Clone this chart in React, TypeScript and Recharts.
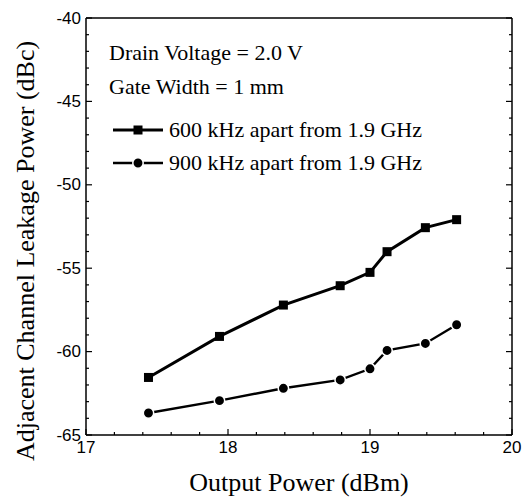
import React from "react";
import { LineChart, Line, XAxis, YAxis } from "recharts";

// values
const outputPower = [17.44, 17.94, 18.39, 18.79, 19.0, 19.12, 19.39, 19.61];
const acpr600 = [-61.55, -59.09, -57.21, -56.05, -55.25, -54.01, -52.57, -52.09];
const acpr900 = [-63.68, -62.94, -62.2, -61.7, -61.03, -59.93, -59.51, -58.39];

const xMajorTicks = [17, 18, 19, 20];
const xTicks = [17, 17.2, 17.4, 17.6, 17.8, 18, 18.2, 18.4, 18.6, 18.8, 19, 19.2, 19.4, 19.6, 19.8, 20];
const yMajorTicks = [-65, -60, -55, -50, -45, -40];
const yTicks = [
  -65, -64, -63, -62, -61, -60, -59, -58, -57, -56, -55, -54, -53,
  -52, -51, -50, -49, -48, -47, -46, -45, -44, -43, -42, -41, -40,
];

const seriesNames = ["600 kHz apart from 1.9 GHz", "900 kHz apart from 1.9 GHz"];
const notes = ["Drain Voltage = 2.0 V", "Gate Width = 1 mm"];

const SERIF = "'Liberation Serif', 'Times New Roman', serif";
const SANS = "'Liberation Sans', Arial, sans-serif";

const isMajor = (list: number[], v: number) => list.some((t) => Math.abs(t - v) < 1e-6);

const BottomTick = (props: any) => {
  const { x, y, payload } = props;
  const major = isMajor(xMajorTicks, payload.value);
  return (
    <g>
      <line x1={x} x2={x} y1={y} y2={y - (major ? 6 : 3)} stroke="#000" strokeWidth={1.2} />
      {major && (
        <text x={x} y={y + 18} textAnchor="middle" fontFamily={SANS} fontSize={17} fill="#000">
          {payload.value}
        </text>
      )}
    </g>
  );
};

const TopTick = (props: any) => {
  const { x, y, payload } = props;
  const major = isMajor(xMajorTicks, payload.value);
  return <line x1={x} x2={x} y1={y} y2={y + (major ? 6 : 3)} stroke="#000" strokeWidth={1.2} />;
};

const LeftTick = (props: any) => {
  const { x, y, payload } = props;
  const major = isMajor(yMajorTicks, payload.value);
  return (
    <g>
      <line x1={x} x2={x + (major ? 6 : 3)} y1={y} y2={y} stroke="#000" strokeWidth={1.2} />
      {major && (
        <text x={x - 5} y={y} textAnchor="end" dominantBaseline="central" fontFamily={SANS} fontSize={17} fill="#000">
          {payload.value}
        </text>
      )}
    </g>
  );
};

const RightTick = (props: any) => {
  const { x, y, payload } = props;
  const major = isMajor(yMajorTicks, payload.value);
  return <line x1={x} x2={x - (major ? 6 : 3)} y1={y} y2={y} stroke="#000" strokeWidth={1.2} />;
};

const SquareDot = (props: any) => {
  const { cx, cy } = props;
  return <rect x={cx - 4.5} y={cy - 4.5} width={9} height={9} fill="#000" />;
};

const CircleDot = (props: any) => {
  const { cx, cy } = props;
  return <circle cx={cx} cy={cy} r={5.2} fill="#000" stroke="#fff" strokeWidth={1.5} />;
};

export default function App() {
  const data = outputPower.map((x, i) => ({ x, a: acpr600[i], b: acpr900[i] }));

  return (
    <div style={{ position: "absolute", left: 0, top: 0, width: 522, height: 497, background: "#fff" }}>
      <LineChart
        width={522}
        height={497}
        data={data}
        margin={{ top: 16, right: 8, bottom: 22, left: 30 }}
      >
        <XAxis
          xAxisId="b"
          dataKey="x"
          type="number"
          domain={[17, 20]}
          ticks={xTicks}
          interval={0}
          height={40}
          tickSize={0}
          tickMargin={0}
          tick={BottomTick}
          axisLine={{ stroke: "#000", strokeWidth: 1.5 }}
          allowDataOverflow
        />
        <XAxis
          xAxisId="t"
          orientation="top"
          type="number"
          domain={[17, 20]}
          ticks={xTicks}
          interval={0}
          height={2}
          tickSize={0}
          tickMargin={0}
          tick={TopTick}
          axisLine={{ stroke: "#000", strokeWidth: 1.5 }}
          allowDataOverflow
        />
        <YAxis
          yAxisId="l"
          type="number"
          domain={[-65, -40]}
          ticks={yTicks}
          interval={0}
          width={56}
          tickSize={0}
          tickMargin={0}
          tick={LeftTick}
          axisLine={{ stroke: "#000", strokeWidth: 1.5 }}
          allowDataOverflow
        />
        <YAxis
          yAxisId="r"
          orientation="right"
          type="number"
          domain={[-65, -40]}
          ticks={yTicks}
          interval={0}
          width={2}
          tickSize={0}
          tickMargin={0}
          tick={RightTick}
          axisLine={{ stroke: "#000", strokeWidth: 1.5 }}
          allowDataOverflow
        />
        <Line
          xAxisId="b"
          yAxisId="l"
          dataKey="a"
          name={seriesNames[0]}
          stroke="#000"
          strokeWidth={3}
          dot={SquareDot}
          activeDot={false}
          isAnimationActive={false}
        />
        <Line
          xAxisId="b"
          yAxisId="l"
          dataKey="b"
          name={seriesNames[1]}
          stroke="#000"
          strokeWidth={2.4}
          dot={CircleDot}
          activeDot={false}
          isAnimationActive={false}
        />
      </LineChart>

      {notes.map((t, i) => (
        <div
          key={t}
          style={{
            position: "absolute",
            left: 109,
            top: 40 + i * 34,
            fontFamily: SERIF,
            fontSize: 22,
            whiteSpace: "nowrap",
            color: "#000",
          }}
        >
          {t}
        </div>
      ))}

      <div style={{ position: "absolute", left: 112, top: 113, fontFamily: SERIF, fontSize: 22, color: "#000" }}>
        {seriesNames.map((name, i) => (
          <div key={name} style={{ display: "flex", alignItems: "center", height: 33 }}>
            <svg width={52} height={14} style={{ marginRight: 5 }}>
              <line x1={1} x2={51} y1={7} y2={7} stroke="#000" strokeWidth={i === 0 ? 3 : 2.4} />
              {i === 0 ? (
                <rect x={21.5} y={2.5} width={9} height={9} fill="#000" />
              ) : (
                <circle cx={26} cy={7} r={5.2} fill="#000" stroke="#fff" strokeWidth={1.5} />
              )}
            </svg>
            <span style={{ whiteSpace: "nowrap" }}>{name}</span>
          </div>
        ))}
      </div>

      <div
        style={{
          position: "absolute",
          left: 299,
          top: 483,
          transform: "translate(-50%, -50%)",
          fontFamily: SERIF,
          fontSize: 26,
          whiteSpace: "nowrap",
          color: "#000",
        }}
      >
        Output Power (dBm)
      </div>
      <div
        style={{
          position: "absolute",
          left: 26,
          top: 251,
          transform: "translate(-50%, -50%) rotate(-90deg)",
          fontFamily: SERIF,
          fontSize: 26,
          whiteSpace: "nowrap",
          color: "#000",
        }}
      >
        Adjacent Channel Leakage Power (dBc)
      </div>
    </div>
  );
}
